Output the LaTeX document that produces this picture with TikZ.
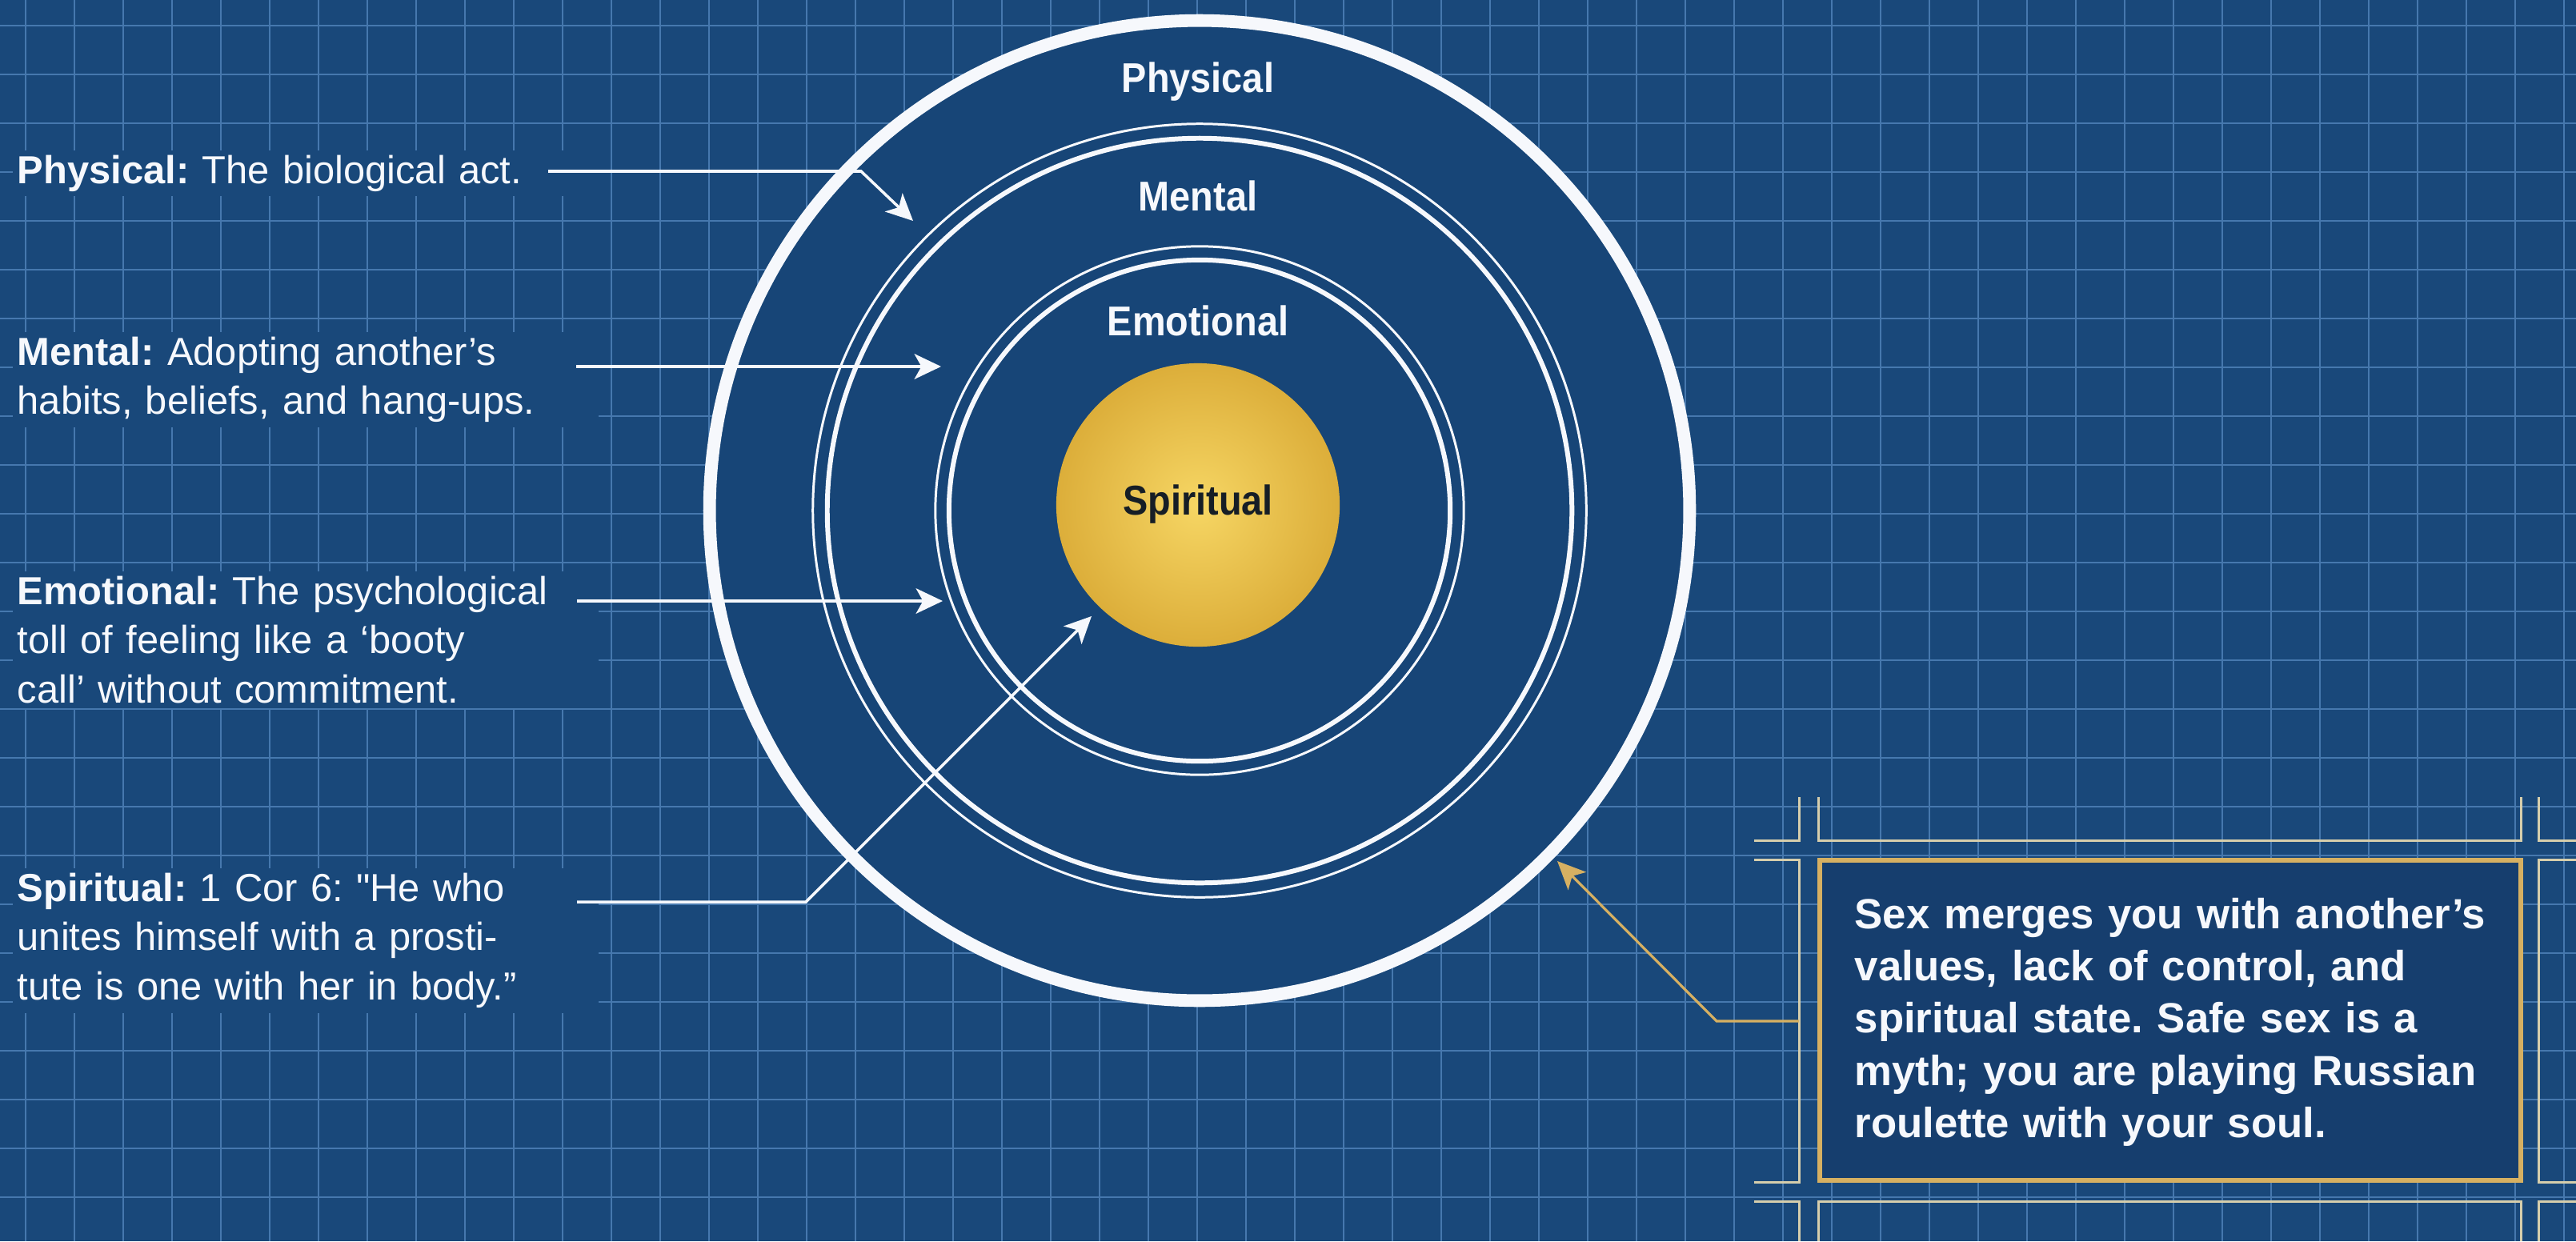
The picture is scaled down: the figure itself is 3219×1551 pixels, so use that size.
\documentclass[tikz,border=0pt]{standalone}
\usepackage{fontspec}
\setmainfont{Liberation Sans}
\newfontfamily\plainfont{Liberation Sans}
\newfontfamily\labelfont[FakeStretch=0.9]{Liberation Sans}
\usetikzlibrary{arrows.meta}
\frenchspacing
\definecolor{bgc}{RGB}{25,72,122}
\definecolor{ringfill}{RGB}{23,69,119}
\definecolor{gridc}{RGB}{70,120,174}
\definecolor{wht}{RGB}{246,248,252}
\definecolor{goldA}{RGB}{246,214,100}
\definecolor{goldB}{RGB}{220,174,58}
\definecolor{goldline}{RGB}{214,176,98}
\definecolor{cream}{RGB}{214,206,172}
\definecolor{boxfill}{RGB}{22,62,110}
\definecolor{darktext}{RGB}{22,30,38}
\tikzset{
  gridline/.style={draw=gridc, line width=0.55pt},
  leftnote/.style={anchor=base west, inner sep=0.06cm, fill=bgc, text width=7.2cm, align=left, text=wht,
    font=\fontsize{13.9pt}{17.6pt}\selectfont},
  boxtext/.style={anchor=base west, inner sep=0pt, text width=8.4cm, align=left, text=wht,
    font=\bfseries\fontsize{15pt}{18.6pt}\selectfont},
  lab/.style={anchor=base, inner sep=0pt, text=wht, font=\labelfont\bfseries\fontsize{14.8pt}{16pt}\selectfont},
  ringthin/.style={circle, draw=wht, inner sep=0pt, line width=0.85pt},
  ringthick/.style={circle, draw=wht, inner sep=0pt, line width=1.7pt},
  arr/.style={draw=wht, line width=1pt, line join=miter, -{Stealth[length=9.5pt,width=9pt,inset=2.5pt]}},
  goldarr/.style={draw=goldline, line width=0.9pt, -{Stealth[length=10pt,width=9pt,inset=2.5pt,fill=goldline]}},
  frameline/.style={draw=cream, line width=0.85pt}
}
\begin{document}
\begin{tikzpicture}[x=0.01cm,y=-0.01cm]
\useasboundingbox (0,0) rectangle (3219,1551);
% background
\fill[bgc] (0,0) rectangle (3219,1551);
% grid
\foreach \i in {0,...,52} \draw[gridline] ({32+61*\i},0) -- ({32+61*\i},1551);
\foreach \j in {0,...,24} \draw[gridline] (0,{32+61*\j}) -- (3219,{32+61*\j});

% left notes
\node[leftnote] (nphys) at (15,229) {\textbf{Physical:} The biological act.};
\node[leftnote] (nment) at (15,456) {\textbf{Mental:} Adopting another’s\\habits, beliefs, and hang-ups.};
\node[leftnote] (nemo) at (15,755) {\textbf{Emotional:} The psychological\\toll of feeling like a ‘booty\\call’ without commitment.};
\node[leftnote] (nspir) at (15,1126) {\textbf{Spiritual:} 1 Cor 6: {\plainfont"}He who\\unites himself with a prosti-\\tute is one with her in body.”};

% frame around box
\draw[frameline] (2248,996) -- (2248,1050) -- (2192,1050);
\draw[frameline] (2272,996) -- (2272,1050) -- (3150,1050) -- (3150,996);
\draw[frameline] (3172,996) -- (3172,1050) -- (3219,1050);
\draw[frameline] (2192,1074) -- (2248,1074) -- (2248,1477) -- (2192,1477);
\draw[frameline] (3219,1074) -- (3172,1074) -- (3172,1477) -- (3219,1477);
\draw[frameline] (2192,1501) -- (2248,1501) -- (2248,1551);
\draw[frameline] (2272,1551) -- (2272,1501) -- (3150,1501) -- (3150,1551);
\draw[frameline] (3219,1501) -- (3172,1501) -- (3172,1551);
% box
\node[draw=goldline, fill=boxfill, line width=1.7pt, minimum width=8.76cm, minimum height=4.0cm, inner sep=0pt] (box) at (2712,1275) {};
\node[boxtext] (boxt) at (2317,1160) {Sex merges you with another’s\\values, lack of control, and\\spiritual state. Safe sex is a\\myth; you are playing Russian\\roulette with your soul.};

% circles
\node[circle, draw=wht, fill=ringfill, line width=4.5pt, minimum size=12.24cm, inner sep=0pt] (outer) at (1499,638) {};
\node[ringthin, minimum size=9.66cm] (mentA) at (1499,638) {};
\node[ringthick, minimum size=9.30cm] (mentB) at (1499,638) {};
\node[ringthin, minimum size=6.60cm] (emoA) at (1499,638) {};
\node[ringthick, minimum size=6.26cm] (emoB) at (1499,638) {};
\node[circle, minimum size=3.54cm, inner sep=0pt, inner color=goldA, outer color=goldB] (core) at (1497,631) {};

% labels
\node[lab] (lphys) at (1497,115) {Physical};
\node[lab] (lment) at (1497,263) {Mental};
\node[lab] (lemo) at (1497,419) {Emotional};
\node[lab, text=darktext] (lspir) at (1497,643) {Spiritual};

% connectors
\coordinate (p0) at (685,214);
\coordinate (p1) at (1076,214);
\coordinate (p2) at (1141,276);
\draw[arr] (p0) -- (p1) -- (p2);
\coordinate (m0) at (720,458);
\coordinate (m1) at (1176,458);
\draw[arr] (m0) -- (m1);
\coordinate (e0) at (721,751);
\coordinate (e1) at (1178,751);
\draw[arr] (e0) -- (e1);
\coordinate (s0) at (721,1127);
\coordinate (s1) at (1007,1127);
\coordinate (s2) at (1364,770);
\draw[arr] (s0) -- (s1) -- (s2);
\coordinate (g0) at (2248,1276);
\coordinate (g1) at (2145,1276);
\coordinate (g2) at (1946,1076);
\draw[goldarr] (g0) -- (g1) -- (g2);
\end{tikzpicture}
\end{document}
